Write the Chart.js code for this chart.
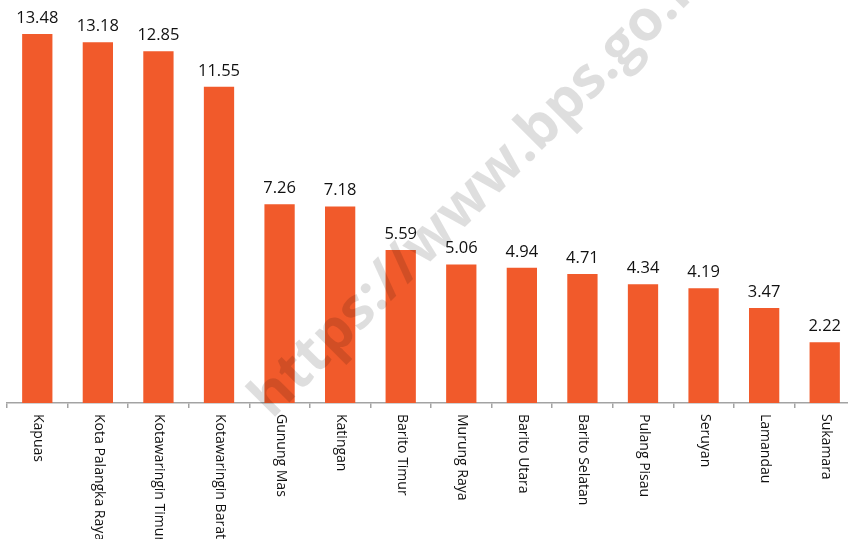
<!DOCTYPE html>
<html>
<head>
<meta charset="utf-8">
<script src="https://cdn.jsdelivr.net/npm/chart.js@4/dist/chart.umd.min.js"></script>
<style>
  html, body { margin: 0; padding: 0; background: #fff; overflow: hidden; }
  #wrap { width: 860px; height: 539px; }
</style>
</head>
<body>
<div id="wrap"><canvas id="chart" width="860" height="539"></canvas></div>
<script>
const regions = ['Kapuas', 'Kota Palangka Raya', 'Kotawaringin Timur', 'Kotawaringin Barat', 'Gunung Mas', 'Katingan',
  'Barito Timur', 'Murung Raya', 'Barito Utara', 'Barito Selatan', 'Pulang Pisau', 'Seruyan', 'Lamandau', 'Sukamara'];
const values = [13.48, 13.18, 12.85, 11.55, 7.26, 7.18, 5.59, 5.06, 4.94, 4.71, 4.34, 4.19, 3.47, 2.22];

const barColor = '#f15a2b';
const axisColor = '#a3a3a3';

// labels above bars, rotated category names, watermark
const decorations = {
  id: 'decorations',
  afterDraw(chart) {
    const { ctx, scales: { x } } = chart;
    const meta = chart.getDatasetMeta(0);

    ctx.save();
    ctx.fillStyle = '#111';
    ctx.font = '16.5px "Open Sans"';
    ctx.textAlign = 'center';
    ctx.textBaseline = 'alphabetic';
    meta.data.forEach((bar, i) => {
      ctx.fillText(values[i].toFixed(2), bar.x, bar.y - 11);
    });

    ctx.font = '14px "Open Sans"';
    ctx.textAlign = 'left';
    ctx.textBaseline = 'middle';
    regions.forEach((name, i) => {
      ctx.save();
      ctx.translate(x.getPixelForValue(i) + 1, x.bottom + 6);
      ctx.rotate(Math.PI / 2);
      ctx.fillText(name, 0, 0);
      ctx.restore();
    });

    ctx.translate(272, 420);
    ctx.rotate(-45 * Math.PI / 180);
    ctx.font = 'bold 57px "Open Sans"';
    ctx.fillStyle = 'rgba(0, 0, 0, 0.13)';
    ctx.textAlign = 'left';
    ctx.textBaseline = 'alphabetic';
    ctx.fillText('https://www.bps.go.id', 0, 0);
    ctx.restore();
  },
};

new Chart(document.getElementById('chart'), {
  type: 'bar',
  data: {
    labels: regions,
    datasets: [{
      data: values,
      backgroundColor: barColor,
      barPercentage: 0.5,
      categoryPercentage: 1,
    }],
  },
  options: {
    responsive: false,
    animation: false,
    layout: { padding: { left: 7, right: 5, top: 0, bottom: 131 } },
    plugins: { legend: { display: false }, tooltip: { enabled: false } },
    scales: {
      x: {
        ticks: { display: false },
        grid: { drawOnChartArea: false, drawTicks: true, tickLength: 5, color: axisColor, lineWidth: 1.5 },
        border: { display: true, color: axisColor, width: 1.5 },
      },
      y: {
        display: false,
        min: 0,
        max: 14.72,
      },
    },
  },
  plugins: [decorations],
});
</script>
</body>
</html>
